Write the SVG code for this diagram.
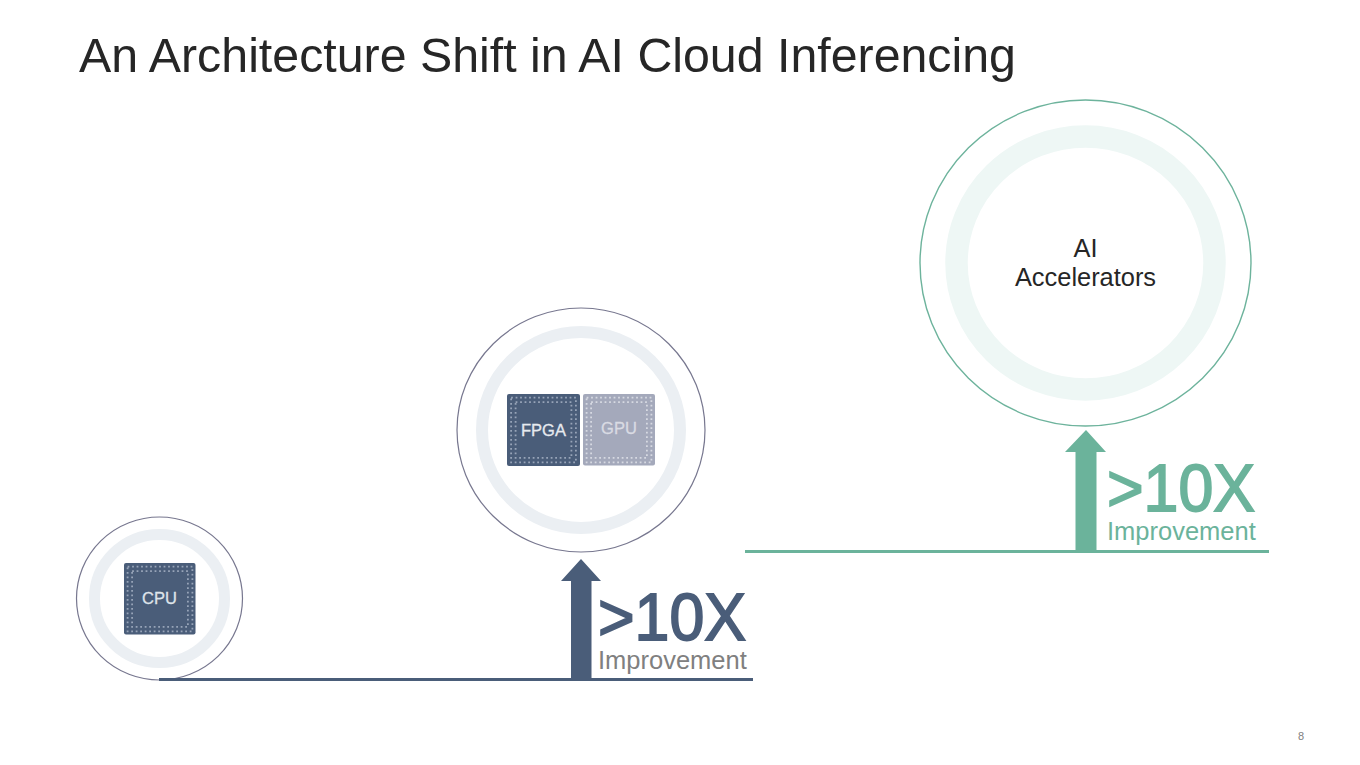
<svg xmlns="http://www.w3.org/2000/svg" xmlns:xlink="http://www.w3.org/1999/xlink" width="1360" height="765" viewBox="0 0 1360 765">
<style>
text{font-family:"Liberation Sans",Arial,sans-serif}
.title{font-size:48.3px;fill:#262626}
.ring{fill:none}
.blue{stroke:#ebeff3}
.green{stroke:#eef7f5}
.outer-b{fill:#fff;stroke:#77778f;stroke-width:1.2}
.outer-g{fill:#fff;stroke:#6db39c;stroke-width:1.4}
.big{font-size:66px;stroke-width:1.8}
.imp{font-size:25.5px}
.chipt{font-size:16.5px;text-anchor:middle;stroke-width:.3}
.dots{fill:none;stroke-width:1.8;stroke-dasharray:1.8 2.7}
.d1{stroke:#97a4b8}
.d2{stroke:#d6d9e2}
.ai{font-size:25.4px;text-anchor:middle;fill:#262626}
</style>
<defs>
<g id="chipdots">
<rect x="3.600" y="3.600" width="64.800" height="64.800" class="dots"/>
<rect x="8.100" y="8.100" width="55.800" height="55.800" class="dots"/>
</g>
</defs>
<rect width="1360" height="765" fill="#fff"/>
<text class="title" x="79" y="72">An Architecture Shift in AI Cloud Inferencing</text>
<g id="node-cpu">
<ellipse class="outer-b" cx="159.500" cy="598.500" rx="83" ry="81.500"/>
<ellipse class="ring blue" cx="159.500" cy="598.500" rx="65" ry="64" stroke-width="11"/>
<rect x="124" y="563" width="71.500" height="71.500" rx="2" fill="#4a5d79"/>
<use xlink:href="#chipdots" x="124" y="563" class="d1"/>
<text class="chipt" x="159.500" y="604" fill="#dfe4ea" stroke="#dfe4ea">CPU</text>
</g>
<g id="node-fpga-gpu">
<ellipse class="outer-b" cx="581" cy="430" rx="124" ry="122"/>
<ellipse class="ring blue" cx="581" cy="430" rx="99" ry="98" stroke-width="12"/>
<rect x="507" y="394" width="73" height="72" rx="2" fill="#4a5d79"/>
<use xlink:href="#chipdots" x="507.500" y="394" class="d1"/>
<text class="chipt" x="543.500" y="436" fill="#e6eaef" stroke="#e6eaef">FPGA</text>
<rect x="583" y="394" width="72" height="71.500" rx="2" fill="#a4a9bb"/>
<use xlink:href="#chipdots" x="583" y="394" class="d2"/>
<text class="chipt" x="619" y="434" fill="#d9dbe3" stroke="#d9dbe3">GPU</text>
</g>
<g id="node-ai">
<ellipse class="outer-g" cx="1085.500" cy="263" rx="165.500" ry="163"/>
<ellipse class="ring green" cx="1085.500" cy="263" rx="129" ry="126.500" stroke-width="22.500"/>
<text class="ai" x="1085.500" y="257">AI</text>
<text class="ai" x="1085.500" y="286">Accelerators</text>
</g>
<g id="connectors">
<rect x="159" y="678" width="594" height="3" fill="#4a5d79"/>
<path d="M571 680V581H561L581 559L601 581H591.500V680Z" fill="#4a5d79"/>
<rect x="745" y="550" width="524" height="3" fill="#6bb39b"/>
<path d="M1075.500 552V452H1065L1086 430L1106 452H1096.500V552Z" fill="#6bb39b"/>
</g>
<g id="label-1">
<text class="big" x="598" y="640" fill="#4a5d79" stroke="#4a5d79" textLength="148" lengthAdjust="spacingAndGlyphs">&gt;10X</text>
<text class="imp" x="598" y="669" fill="#808080">Improvement</text>
</g>
<g id="label-2">
<text class="big" x="1107" y="511" fill="#6bb39b" stroke="#6bb39b" textLength="148" lengthAdjust="spacingAndGlyphs">&gt;10X</text>
<text class="imp" x="1107" y="540" fill="#6bb39b">Improvement</text>
</g>
<text x="1301" y="740" font-size="11" text-anchor="middle" fill="#808080">8</text>
</svg>
